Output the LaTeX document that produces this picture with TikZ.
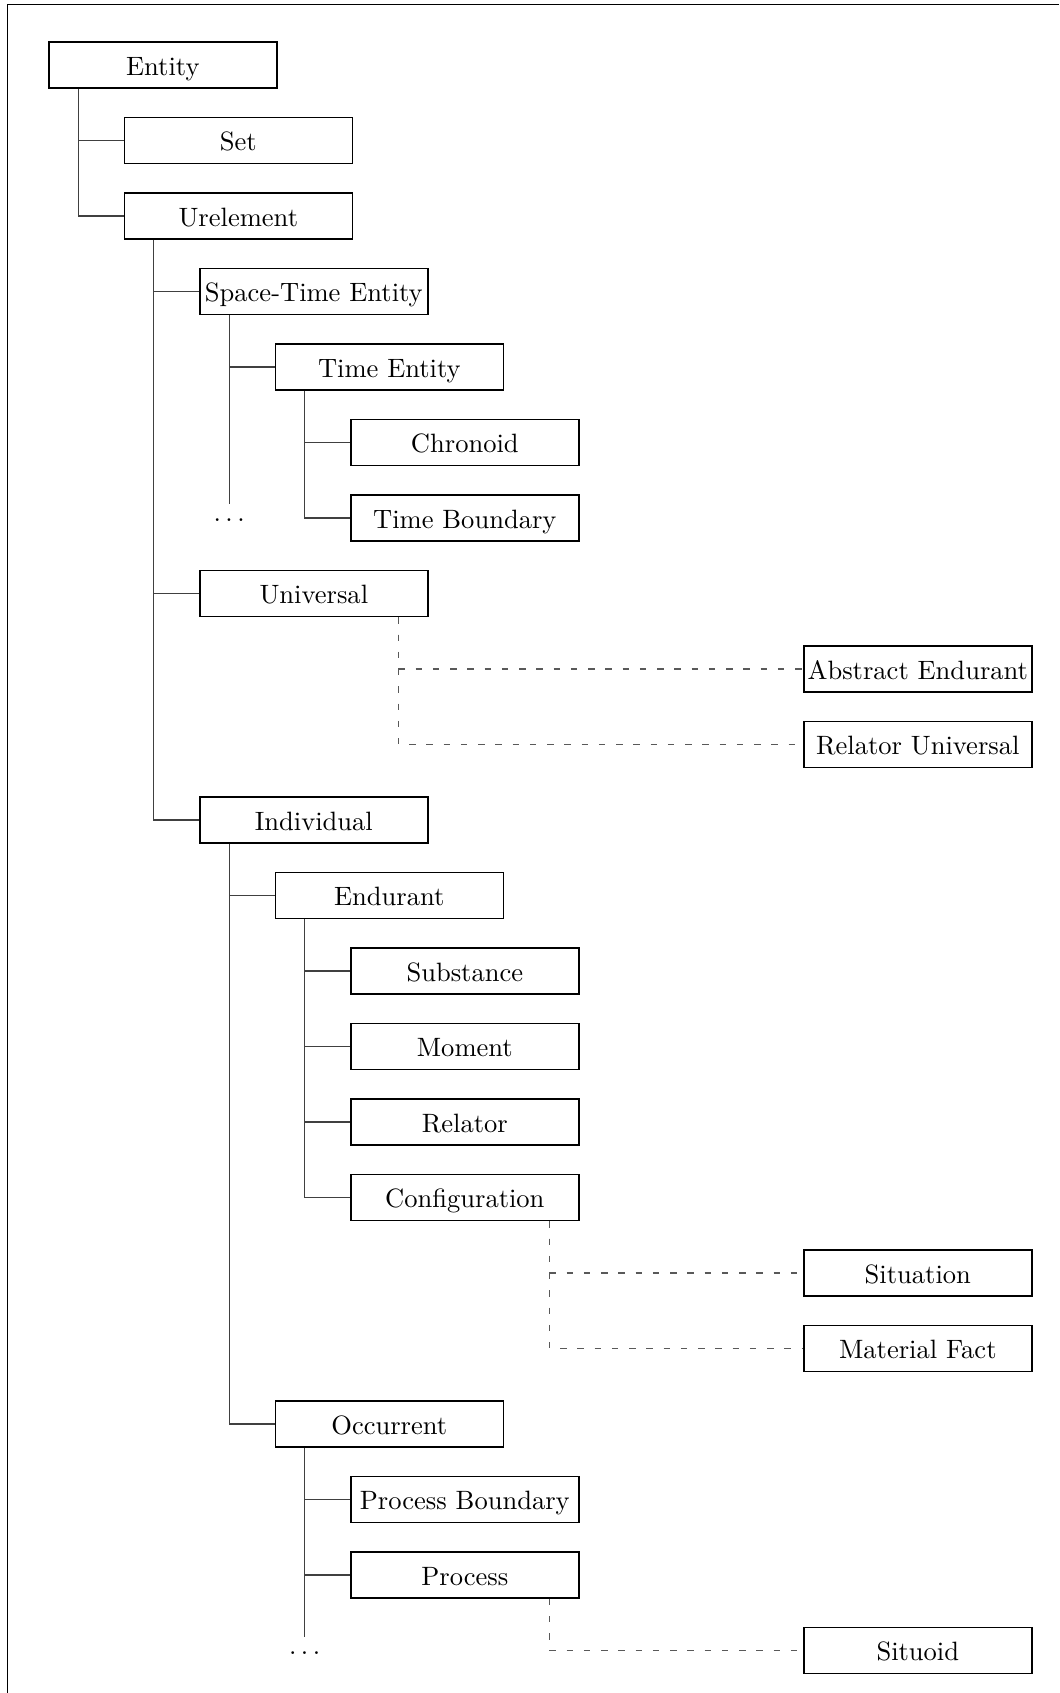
\documentclass[tikz,border=0pt]{standalone}
\usetikzlibrary{positioning}
\begin{document}
\begin{tikzpicture}[
  box/.style={draw=black, line width=0.6pt, minimum width=3.02cm, minimum height=0.61cm,
              inner sep=1pt, anchor=west, text height=2ex, text depth=0.25ex, font=\fontsize{10}{12}\selectfont},
  tree/.style={draw=black!75, line width=0.45pt},
  dashlink/.style={draw=black!65, line width=0.45pt, dash pattern=on 2.4pt off 4.1pt},
  dotsn/.style={anchor=base, inner sep=0pt, text height=6.4pt, font=\fontsize{10}{12}\selectfont}
]
\useasboundingbox (-0.636,0.861) rectangle (13.391,-21.563);
\draw[line width=0.5pt] (-0.536,-21.563) -- (-0.536,0.799) -- (13.391,0.799);

\node[box] (entity) at (0,0) {Entity};
\node[box] (set) at (1,-1) {Set};
\node[box] (urel) at (1,-2) {Urelement};
\node[box] (ste) at (2,-3) {Space-Time Entity};
\node[box] (te) at (3,-4) {Time Entity};
\node[box] (chron) at (4,-5) {Chronoid};
\node[box] (tb) at (4,-6) {Time Boundary};
\node[dotsn] (dots1) at (2.4,-6.05) {$\ldots$};
\node[box] (univ) at (2,-7) {Universal};
\node[box] (absend) at (10,-8) {Abstract Endurant};
\node[box] (reluniv) at (10,-9) {Relator Universal};
\node[box] (indiv) at (2,-10) {Individual};
\node[box] (endur) at (3,-11) {Endurant};
\node[box] (subst) at (4,-12) {Substance};
\node[box] (moment) at (4,-13) {Moment};
\node[box] (relator) at (4,-14) {Relator};
\node[box] (config) at (4,-15) {Configuration};
\node[box] (situation) at (10,-16) {Situation};
\node[box] (matfact) at (10,-17) {Material Fact};
\node[box] (occur) at (3,-18) {Occurrent};
\node[box] (procb) at (4,-19) {Process Boundary};
\node[box] (proc) at (4,-20) {Process};
\node[box] (situoid) at (10,-21) {Situoid};
\node[dotsn] (dots2) at (3.4,-21.05) {$\ldots$};

% solid tree connectors
\draw[tree] ([xshift=0.4cm]entity.south west) |- (set.west);
\draw[tree] ([xshift=0.4cm]entity.south west) |- (urel.west);
\draw[tree] ([xshift=0.4cm]urel.south west) |- (ste.west);
\draw[tree] ([xshift=0.4cm]urel.south west) |- (univ.west);
\draw[tree] ([xshift=0.4cm]urel.south west) |- (indiv.west);
\draw[tree] ([xshift=0.4cm]ste.south west) |- (te.west);
\draw[tree] ([xshift=0.4cm]ste.south west) -- (dots1.north);
\draw[tree] ([xshift=0.4cm]te.south west) |- (chron.west);
\draw[tree] ([xshift=0.4cm]te.south west) |- (tb.west);
\draw[tree] ([xshift=0.4cm]indiv.south west) |- (endur.west);
\draw[tree] ([xshift=0.4cm]indiv.south west) |- (occur.west);
\draw[tree] ([xshift=0.4cm]endur.south west) |- (subst.west);
\draw[tree] ([xshift=0.4cm]endur.south west) |- (moment.west);
\draw[tree] ([xshift=0.4cm]endur.south west) |- (relator.west);
\draw[tree] ([xshift=0.4cm]endur.south west) |- (config.west);
\draw[tree] ([xshift=0.4cm]occur.south west) |- (procb.west);
\draw[tree] ([xshift=0.4cm]occur.south west) |- (proc.west);
\draw[tree] ([xshift=0.4cm]occur.south west) -- (dots2.north);

% dashed connectors
\draw[dashlink] ([xshift=-0.4cm]univ.south east) |- (absend.west);
\draw[dashlink] ([xshift=-0.4cm]univ.south east) |- (reluniv.west);
\draw[dashlink] ([xshift=-0.4cm]config.south east) |- (situation.west);
\draw[dashlink] ([xshift=-0.4cm]config.south east) |- (matfact.west);
\draw[dashlink] ([xshift=-0.4cm]proc.south east) |- (situoid.west);
\end{tikzpicture}
\end{document}
